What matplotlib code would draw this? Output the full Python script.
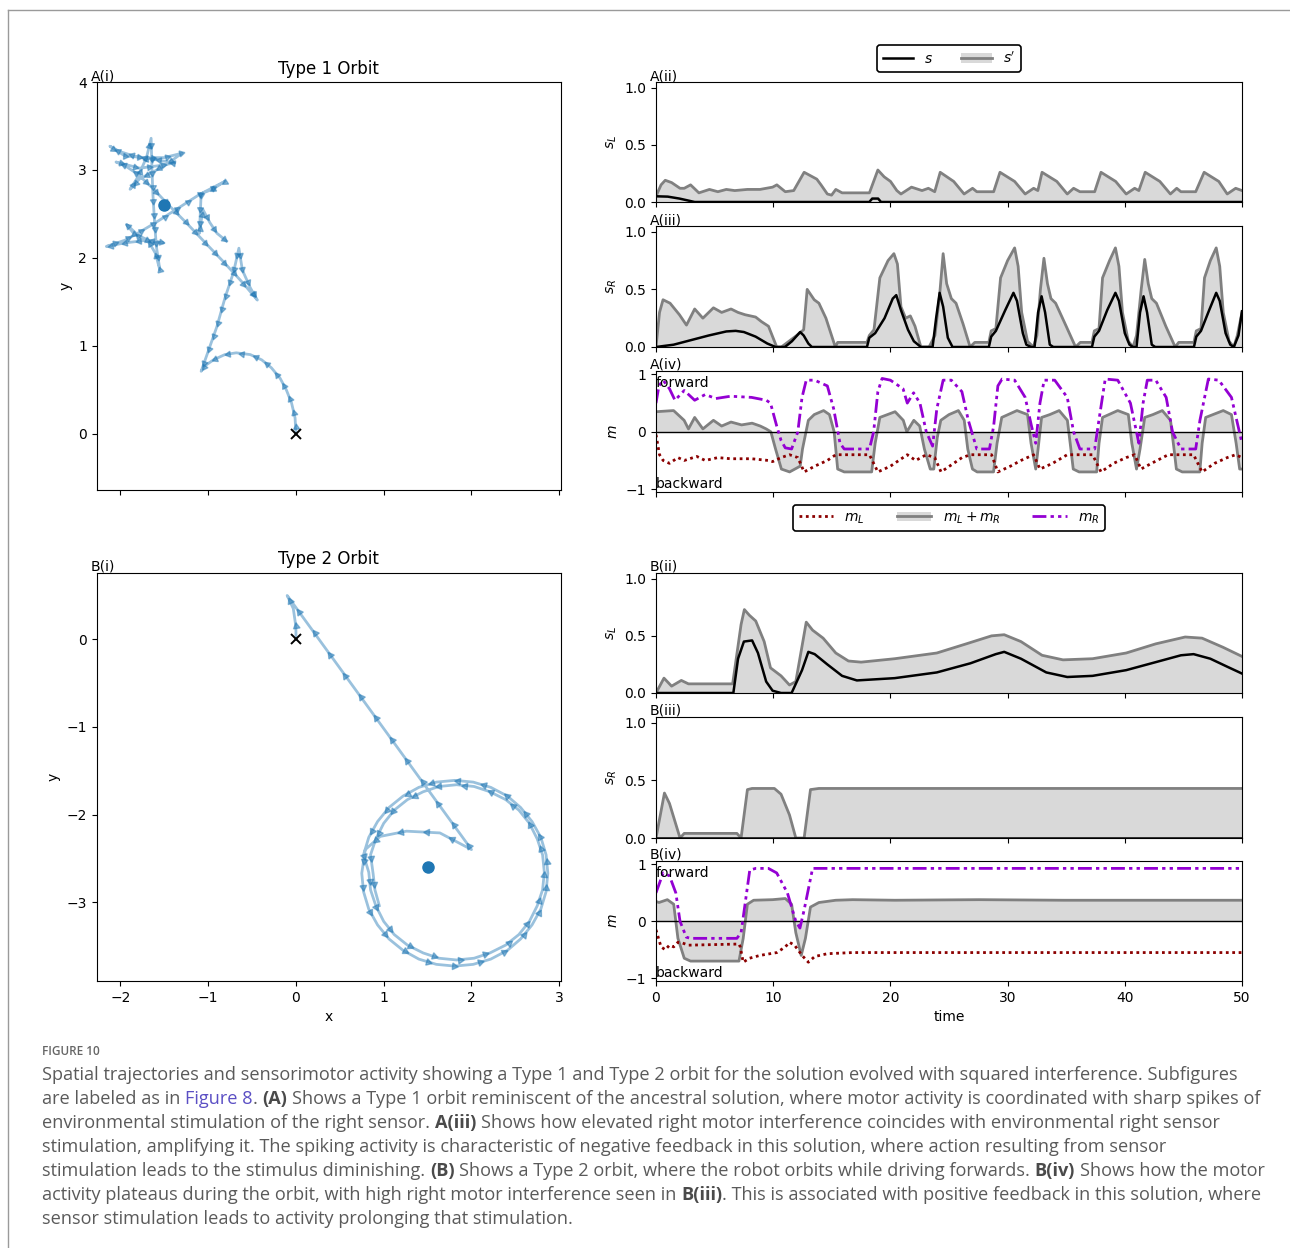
import numpy as np
import matplotlib
matplotlib.use("Agg")
import matplotlib.pyplot as plt
from matplotlib.patches import Patch
from matplotlib.lines import Line2D

# ---------------- data ----------------
# Type 1 orbit trajectory (x, y)
a_x = [0, -0.01, -0.05, -0.11, -0.18, -0.28, -0.39, -0.52, -0.68, -0.81, -0.94, -1.04, -1.08,
       -0.9, -0.81, -0.71, -0.65,
       -0.61, -0.52, -0.44,
       -0.6, -0.83, -1.06, -1.25, -1.45, -1.62, -1.8, -1.95, -2.05,
       -1.78, -1.55, -1.38,
       -1.62, -1.82, -2.01, -2.12,
       -1.95, -1.72, -1.5, -1.3,
       -1.45, -1.62, -1.78, -1.89,
       -1.8, -1.7, -1.65,
       -1.64, -1.63, -1.61, -1.59, -1.55,
       -1.6, -1.67, -1.78, -1.93,
       -1.85, -1.68, -1.51,
       -1.7, -1.95, -2.16,
       -1.95, -1.82, -1.6, -1.35, -1.1, -0.81,
       -0.95, -1.08, -1.09, -1.1, -1.06, -0.98, -0.9, -0.79]
a_y = [0, 0.18, 0.35, 0.5, 0.63, 0.75, 0.84, 0.9, 0.92, 0.9, 0.84, 0.77, 0.71,
       1.22, 1.54, 1.84, 2.11,
       1.86, 1.66, 1.52,
       1.71, 1.96, 2.2, 2.4, 2.6, 2.78, 2.95, 3.05, 3.09,
       3.02, 3.05, 3.08,
       3.12, 3.15, 3.21, 3.27,
       3.16, 3.14, 3.14, 3.19,
       3.08, 2.98, 2.9, 2.78,
       2.92, 3.15, 3.36,
       3.0, 2.73, 2.39, 2.13, 1.86,
       2.05, 2.17, 2.24, 2.38,
       2.28, 2.2, 2.17,
       2.2, 2.17, 2.13,
       2.2, 2.27, 2.4, 2.56, 2.72, 2.87,
       2.78, 2.73, 2.5, 2.28, 2.55, 2.4, 2.28, 2.19]
a_reverse = [(12, 16), (19, 26)]
a_light = (-1.5, 2.6)

# Type 2 orbit trajectory (x, y)
b_x = [0, 0, -0.03, -0.1, 2.0, 1.64, 1.26, 0.96, 0.79,
       0.75, 0.77, 0.83, 0.93, 1.06, 1.22, 1.40, 1.60, 1.81, 2.02, 2.22, 2.41, 2.56, 2.69, 2.79, 2.85,
       2.87, 2.85, 2.79, 2.69, 2.56, 2.41, 2.22, 2.02, 1.81, 1.60, 1.40, 1.22, 1.06, 0.93, 0.83, 0.77,
       0.83, 0.85, 0.91, 1.00, 1.12, 1.27, 1.45, 1.63, 1.83, 2.03, 2.21, 2.39, 2.54, 2.66, 2.75, 2.81,
       2.83, 2.81, 2.75, 2.66, 2.54, 2.39, 2.21, 2.03, 1.83, 1.63, 1.45, 1.27, 1.12, 1.00, 0.91, 0.85,
       0.88, 0.90, 0.95]
b_y = [0, 0.14, 0.35, 0.5, -2.4, -2.21, -2.19, -2.25, -2.4,
       -2.67, -2.88, -3.08, -3.26, -3.42, -3.55, -3.65, -3.71, -3.73, -3.71, -3.65, -3.55, -3.42, -3.26, -3.08, -2.88,
       -2.67, -2.46, -2.26, -2.08, -1.92, -1.79, -1.69, -1.63, -1.61, -1.63, -1.69, -1.79, -1.92, -2.08, -2.26, -2.46,
       -2.66, -2.86, -3.04, -3.22, -3.37, -3.49, -3.58, -3.64, -3.66, -3.64, -3.58, -3.49, -3.37, -3.22, -3.04, -2.86,
       -2.66, -2.46, -2.28, -2.10, -1.95, -1.83, -1.74, -1.68, -1.66, -1.68, -1.74, -1.83, -1.95, -2.10, -2.28, -2.46,
       -2.68, -2.86, -3.04]
b_reverse = [(3, 4)]
b_light = (1.5, -2.6)

# A(ii): left sensor, Type 1
aL_t2 = [0, 0.43, 0.79, 1.33, 2.05, 2.41, 2.95, 3.66, 4.56, 5.28, 6.0, 6.72, 7.79, 8.87, 9.95, 10.31,
         11.03, 11.75, 12.64, 13.72, 14.08, 14.62, 14.98, 15.34, 15.88, 18.21, 18.93, 19.47, 20.01,
         20.55, 20.9, 21.8, 22.7, 23.24, 23.78, 24.25, 25.4, 26.29, 27.01, 27.37, 28.81, 29.35, 30.6,
         31.5, 32.22, 32.58, 32.94, 34.2, 35.09, 35.63, 36.17, 37.43, 37.97, 39.22, 40.12, 40.84, 41.2,
         41.74, 42.99, 43.89, 44.43, 44.79, 46.05, 46.77, 48.02, 48.74, 49.46, 50]
aL_s2 = [0.05, 0.15, 0.19, 0.17, 0.12, 0.12, 0.15, 0.08, 0.11, 0.09, 0.11, 0.10, 0.11, 0.11, 0.13, 0.15,
         0.09, 0.10, 0.26, 0.20, 0.15, 0.07, 0.06, 0.11, 0.08, 0.08, 0.28, 0.22, 0.18,
         0.10, 0.07, 0.13, 0.10, 0.12, 0.09, 0.26, 0.18, 0.07, 0.12, 0.09, 0.09, 0.26, 0.18,
         0.07, 0.12, 0.10, 0.26, 0.18, 0.07, 0.12, 0.09, 0.09, 0.26, 0.18, 0.07, 0.12, 0.10,
         0.26, 0.18, 0.07, 0.12, 0.09, 0.09, 0.26, 0.18, 0.07, 0.12, 0.10]
aL_t = [0, 1, 2, 3.3, 18.2, 18.45, 18.95, 19.2, 50]
aL_s = [0.05, 0.047, 0.03, 0.0, 0.0, 0.03, 0.03, 0.0, 0.0]

# A(iii): right sensor, Type 1
aR_t2 = [0, 0.3, 0.6, 1.2, 2.0, 2.6, 3.3, 4.0, 4.9, 5.6, 6.4, 7.0, 7.6, 8.5, 9.0, 9.6, 10.3, 10.7,
         12.0, 12.6, 12.9, 13.5, 13.9, 14.5, 15.3, 15.5, 18.0, 18.2, 18.6, 19.1, 19.8, 20.3, 20.6,
         20.9, 21.3, 21.7, 22.1, 22.6, 23.3, 23.8, 24.2, 24.5, 24.8, 25.2, 25.6, 26.2, 26.8, 27.2,
         28.4, 28.6, 29.0, 29.4, 30.0, 30.6, 30.9, 31.2, 31.7, 32.2, 32.5, 32.8, 33.1, 33.4, 33.7,
         34.1, 35.0, 35.8, 36.2, 37.2, 37.4, 37.8, 38.1, 38.7, 39.2, 39.5, 39.8, 40.3, 40.7, 41.0,
         41.4, 41.7, 42.0, 42.3, 42.7, 43.5, 44.3, 44.6, 45.9, 46.1, 46.5, 46.8, 47.3, 47.8, 48.1,
         48.4, 48.9, 49.3, 49.6, 50.0]
aR_s2 = [0.0, 0.3, 0.41, 0.38, 0.28, 0.19, 0.33, 0.25, 0.34, 0.30, 0.33, 0.30, 0.28, 0.26, 0.22, 0.18, 0.0, 0.0,
         0.10, 0.15, 0.50, 0.41, 0.38, 0.25, 0.0, 0.04, 0.04, 0.10, 0.15, 0.60, 0.75, 0.81, 0.72,
         0.35, 0.25, 0.27, 0.18, 0.0, 0.0, 0.10, 0.45, 0.81, 0.55, 0.42, 0.38, 0.20, 0.0, 0.04,
         0.04, 0.14, 0.16, 0.60, 0.75, 0.86, 0.70, 0.30, 0.05, 0.0, 0.10, 0.50, 0.77, 0.55, 0.42,
         0.38, 0.18, 0.0, 0.04, 0.04, 0.14, 0.16, 0.60, 0.75, 0.86, 0.70, 0.30, 0.05, 0.0, 0.10,
         0.50, 0.76, 0.55, 0.42, 0.38, 0.18, 0.0, 0.04, 0.04, 0.14, 0.16, 0.60, 0.75, 0.86, 0.70,
         0.30, 0.05, 0.0, 0.10, 0.30]
aR_t = [0, 1.5, 3, 4.5, 6, 6.8, 7.5, 8.5, 9.5, 10.2, 11.0, 11.6, 12.3, 12.6, 13.0, 13.3, 18.0, 18.2,
        18.7, 19.5, 20.2, 20.5, 20.9, 21.5, 22.0, 22.6, 23.6, 23.9, 24.2, 24.5, 24.9, 25.3, 28.4,
        28.6, 29.0, 29.8, 30.5, 30.8, 31.3, 31.6, 32.0, 32.3, 32.6, 32.9, 33.2, 33.6, 33.9, 37.2,
        37.4, 37.8, 38.5, 39.2, 39.5, 40.0, 40.4, 40.7, 41.0, 41.3, 41.6, 41.9, 42.3, 42.6, 45.9,
        46.1, 46.5, 47.2, 47.8, 48.1, 48.6, 49.0, 49.3, 49.7, 50.0]
aR_s = [0, 0.02, 0.06, 0.10, 0.135, 0.14, 0.13, 0.09, 0.03, 0.0, 0.0, 0.05, 0.13, 0.10, 0.03, 0.0, 0.0, 0.08,
        0.12, 0.25, 0.42, 0.45, 0.32, 0.15, 0.05, 0.0, 0.0, 0.25, 0.47, 0.35, 0.08, 0.0, 0.0,
        0.09, 0.14, 0.32, 0.47, 0.40, 0.12, 0.02, 0.0, 0.0, 0.30, 0.44, 0.30, 0.02, 0.0, 0.0,
        0.09, 0.14, 0.32, 0.47, 0.40, 0.12, 0.02, 0.0, 0.0, 0.30, 0.44, 0.30, 0.02, 0.0, 0.0,
        0.09, 0.14, 0.32, 0.47, 0.40, 0.12, 0.02, 0.0, 0.10, 0.31]

# A(iv): motors, Type 1
aMR_t = [0, 0.25, 0.61, 1.15, 1.62, 2.41, 3.3, 4.2, 5.1, 6.36, 8.15, 9.41, 9.77, 10.3, 10.67, 11.03,
         11.57, 12.1, 12.46, 12.82, 13.54, 14.62, 15.16, 15.7, 16.06, 18.21, 18.57, 18.93, 19.29,
         20.0, 21.08, 21.44, 21.98, 22.52, 23.06, 23.6, 23.96, 24.5, 25.2, 26.1, 26.65, 27.37, 28.45,
         28.81, 29.17, 29.53, 30.6, 31.5, 32.04, 32.4, 32.76, 33.12, 34.02, 35.09, 35.63, 36.17,
         37.43, 37.79, 38.33, 39.4, 40.48, 41.2, 41.56, 41.92, 42.64, 43.53, 44.07, 44.79, 46.05,
         46.41, 47.13, 48.02, 49.1, 50.0]
aMR = [0.5, 0.8, 0.9, 0.75, 0.55, 0.72, 0.55, 0.65, 0.58, 0.62, 0.6, 0.55, 0.5, 0.1, -0.15, -0.28,
       -0.3, 0.0, 0.6, 0.9, 0.9, 0.8, 0.4, -0.2, -0.3, -0.3, 0.0, 0.7, 0.93,
       0.9, 0.75, 0.5, 0.68, 0.5, 0.0, -0.25, 0.4, 0.9, 0.9, 0.7, 0.2, -0.3, -0.3,
       0.1, 0.8, 0.92, 0.9, 0.6, 0.1, -0.2, 0.5, 0.9, 0.9, 0.6, 0.0, -0.3,
       -0.3, 0.2, 0.92, 0.9, 0.5, -0.2, 0.5, 0.9, 0.9, 0.6, 0.0, -0.3, -0.3,
       0.2, 0.92, 0.9, 0.6, -0.2]
aMS_t = [0, 1.5, 2.4, 2.77, 3.3, 4.0, 4.9, 5.6, 6.4, 7.3, 8.2, 8.9, 9.4, 9.8, 10.2, 10.7, 11.4, 12.3,
         12.5, 13.0, 13.5, 14.3, 14.8, 15.2, 15.5, 16.06, 18.4, 18.7, 19.1, 20.4, 21.1, 21.4, 22.0,
         22.5, 22.9, 23.4, 23.7, 24.0, 24.3, 25.0, 25.8, 26.3, 26.6, 27.0, 27.4, 28.8, 29.1, 29.5,
         30.8, 31.7, 32.0, 32.4, 32.6, 32.9, 33.6, 34.4, 35.1, 35.4, 35.6, 36.1, 37.6, 37.8, 38.1,
         39.4, 40.3, 40.6, 41.0, 41.3, 41.7, 42.4, 43.2, 43.9, 44.2, 44.4, 44.9, 46.4, 46.6, 46.9,
         48.4, 49.1, 49.5, 49.8, 50.0]
aMS = [0.35, 0.37, 0.2, 0.05, 0.25, 0.05, 0.2, 0.1, 0.17, 0.12, 0.15, 0.1, 0.05, 0.0, -0.3, -0.65, -0.7, -0.6,
       -0.3, 0.2, 0.3, 0.37, 0.3, 0.0, -0.65, -0.7, -0.7, -0.2, 0.25, 0.35, 0.2, 0.0, 0.2,
       0.1, -0.3, -0.65, -0.65, -0.1, 0.2, 0.3, 0.37, 0.2, -0.3, -0.65, -0.7, -0.7, -0.2, 0.25,
       0.37, 0.3, -0.2, -0.65, -0.3, 0.25, 0.3, 0.37, 0.2, -0.3, -0.65, -0.7, -0.7, -0.2, 0.25,
       0.37, 0.3, -0.2, -0.65, -0.3, 0.25, 0.3, 0.37, 0.2, -0.3, -0.65, -0.7, -0.7, -0.2, 0.25,
       0.37, 0.3, -0.2, -0.65, -0.65]
aML_t = [0, 0.3, 0.61, 1.15, 1.87, 2.41, 3.48, 4.2, 5.28, 6.36, 8.15, 9.59, 9.95, 10.67, 11.39, 12.1,
         12.64, 13.54, 14.62, 15.34, 18.21, 18.93, 20.0, 20.72, 21.44, 22.16, 23.06, 23.78, 24.32,
         25.4, 26.11, 26.83, 28.63, 29.17, 30.24, 31.14, 32.22, 32.76, 33.84, 35.09, 37.25, 37.97,
         39.04, 40.12, 40.84, 41.38, 42.28, 43.71, 45.87, 46.59, 47.66, 48.74, 49.46, 50.0]
aML = [-0.05, -0.4, -0.5, -0.55, -0.45, -0.5, -0.43, -0.5, -0.45, -0.47, -0.47, -0.5, -0.52, -0.45, -0.4, -0.45,
       -0.7, -0.6, -0.5, -0.4, -0.4, -0.7, -0.6, -0.5, -0.4, -0.5, -0.4, -0.45, -0.7,
       -0.55, -0.45, -0.4, -0.4, -0.7, -0.6, -0.5, -0.4, -0.65, -0.55, -0.4, -0.4, -0.7,
       -0.55, -0.45, -0.4, -0.65, -0.55, -0.4, -0.4, -0.7, -0.55, -0.45, -0.4, -0.45]

# B(ii): left sensor, Type 2
bL_t2 = [0, 0.68, 1.33, 2.16, 2.77, 6.54, 7.26, 7.54, 7.97, 8.51, 9.23, 9.77, 10.67, 11.39, 11.93,
         12.82, 13.36, 14.26, 15.34, 16.42, 17.5, 20.37, 23.96, 26.47, 28.63, 29.71, 31.14, 32.94,
         34.73, 37.25, 40.12, 42.64, 45.15, 46.59, 48.38, 50]
bL_s2 = [0.0, 0.13, 0.06, 0.11, 0.08, 0.08, 0.6, 0.73, 0.68, 0.63, 0.45, 0.22, 0.15, 0.07, 0.1,
         0.62, 0.55, 0.48, 0.35, 0.28, 0.27, 0.3, 0.35, 0.43, 0.5, 0.51, 0.45, 0.33,
         0.29, 0.3, 0.35, 0.43, 0.49, 0.48, 0.4, 0.32]
bL_t = [0, 6.6, 7.0, 7.5, 8.2, 8.7, 9.4, 9.95, 10.67, 11.57, 12.46, 13.0, 13.54, 14.62, 15.88, 17.14,
        20.37, 23.96, 26.83, 28.99, 29.71, 31.14, 33.3, 35.09, 37.25, 40.12, 42.64, 44.79, 45.87,
        47.3, 48.74, 50]
bL_s = [0, 0.0, 0.3, 0.45, 0.46, 0.35, 0.1, 0.02, 0.0, 0.0, 0.2, 0.36, 0.34, 0.25, 0.15, 0.11,
        0.13, 0.18, 0.26, 0.34, 0.36, 0.3, 0.18, 0.14, 0.15, 0.2, 0.27, 0.33, 0.34,
        0.3, 0.23, 0.17]

# B(iii): right sensor, Type 2
bR_t2 = [0, 0.72, 1.15, 2.05, 2.41, 6.9, 7.26, 7.8, 8.2, 10.1, 10.67, 11.39, 11.93, 12.64, 13.18, 13.9, 50]
bR_s2 = [0.0, 0.39, 0.3, 0.0, 0.04, 0.04, 0.0, 0.42, 0.43, 0.43, 0.38, 0.2, 0.0, 0.0, 0.42, 0.43, 0.43]
bR_t = [0, 50]
bR_s = [0, 0]

# B(iv): motors, Type 2
bMR_t = [0, 0.61, 1.15, 1.69, 2.05, 2.59, 2.95, 6.9, 7.26, 8.0, 8.51, 9.59, 10.3, 11.21, 11.93, 12.28,
         12.64, 13.36, 50]
bMR = [0.5, 0.85, 0.8, 0.5, 0.0, -0.28, -0.3, -0.3, -0.2, 0.9, 0.93, 0.93, 0.85, 0.5, 0.0, -0.12,
       0.2, 0.93, 0.93]
bMS_t = [0, 0.25, 0.97, 1.51, 1.87, 2.41, 2.95, 7.08, 7.44, 7.8, 8.33, 9.95, 11.03, 11.57, 11.93,
         12.39, 12.75, 13.18, 13.9, 15.34, 16.78, 20.37, 27.55, 34.73, 50]
bMS = [0.35, 0.33, 0.38, 0.3, -0.3, -0.65, -0.7, -0.7, -0.3, 0.3, 0.37, 0.38, 0.4, 0.3, -0.2,
       -0.6, -0.3, 0.25, 0.33, 0.37, 0.38, 0.37, 0.38, 0.37, 0.37]
bML_t = [0, 0.43, 0.79, 1.15, 1.51, 1.87, 2.23, 2.77, 7.08, 7.19, 7.44, 7.97, 8.87, 10.31, 11.03,
         11.39, 11.82, 12.46, 13.0, 13.54, 14.62, 16.78, 50]
bML = [-0.15, -0.45, -0.5, -0.42, -0.45, -0.37, -0.38, -0.42, -0.4, -0.45, -0.72, -0.65, -0.6, -0.55,
       -0.45, -0.37, -0.42, -0.6, -0.72, -0.62, -0.57, -0.55, -0.55]

time_ticks = [0, 10, 20, 30, 40, 50]
s_ticks = [0.0, 0.5, 1.0]
m_ticks = [-1, 0, 1]

# ---------------- style ----------------
W, H = 1290, 1248
BLUE = "#1f77b4"
GRAYLINE = "#808080"
FILL = "#d9d9d9"
RED = "#8b0000"
VIOLET = "#9400d3"
DASHDOT2 = (0, (5, 1.5, 1.2, 1.5, 1.2, 1.5))
DOTS = (0, (1, 1.3))

fig = plt.figure(figsize=(W / 100, H / 100), dpi=100)


def add_ax(left, top, right, bottom):
    return fig.add_axes([left / W, 1 - bottom / H, (right - left) / W, (bottom - top) / H])


def panel_label(ax, txt):
    ax.annotate(txt, xy=(0, 1), xycoords="axes fraction", xytext=(-6, -1),
                textcoords="offset pixels", ha="left", va="bottom", fontsize=10)


def draw_traj(ax, xs, ys, rev, spacing, ms):
    xs = np.asarray(xs, float)
    ys = np.asarray(ys, float)
    ax.plot(xs, ys, color=BLUE, alpha=0.45, lw=2, solid_joinstyle="round")
    seg = np.hypot(np.diff(xs), np.diff(ys))
    cum = np.concatenate([[0], np.cumsum(seg)])
    revset = set()
    for a, b in rev:
        revset.update(range(a, b))
    s = spacing * 0.5
    while s < cum[-1]:
        i = min(np.searchsorted(cum, s, side="right") - 1, len(seg) - 1)
        f = (s - cum[i]) / seg[i] if seg[i] > 0 else 0
        px = xs[i] + f * (xs[i + 1] - xs[i])
        py = ys[i] + f * (ys[i + 1] - ys[i])
        ang = np.degrees(np.arctan2(ys[i + 1] - ys[i], xs[i + 1] - xs[i]))
        if i in revset:
            ang += 180
        ax.plot([px], [py], marker=(3, 0, ang - 90), ms=ms, color=BLUE, alpha=0.5,
                ls="none", mec=BLUE)
        s += spacing


# left panels
axA1 = add_ax(96.7, 82, 561, 490)
axB1 = add_ax(96.7, 572.7, 561, 981)
for ax, xs, ys, rev, light, sp, ms in [(axA1, a_x, a_y, a_reverse, a_light, 0.16, 5),
                                       (axB1, b_x, b_y, b_reverse, b_light, 0.3, 5.5)]:
    draw_traj(ax, xs, ys, rev, sp, ms)
    ax.plot([light[0]], [light[1]], "o", color=BLUE, ms=8)
    ax.plot([0], [0], "x", color="black", ms=7, mew=1.4)
    ax.set_xlim(-2.27, 3.02)
    ax.set_xticks([-2, -1, 0, 1, 2, 3])
    ax.set_ylabel("y")
axA1.set_ylim(-0.64, 4.0)
axA1.set_yticks([0, 1, 2, 3, 4])
axA1.tick_params(labelbottom=False)
axB1.set_ylim(-3.9, 0.76)
axB1.set_yticks([-3, -2, -1, 0])
axB1.set_xlabel("x")
axA1.set_title("Type 1 Orbit", fontsize=12)
axB1.set_title("Type 2 Orbit", fontsize=12)
panel_label(axA1, "A(i)")
panel_label(axB1, "B(i)")

# right panels
L, R = 656, 1242
axA2 = add_ax(L, 82, R, 202)
axA3 = add_ax(L, 226, R, 347)
axA4 = add_ax(L, 371, R, 492)
axB2 = add_ax(L, 573, R, 693)
axB3 = add_ax(L, 717, R, 838)
axB4 = add_ax(L, 861, R, 981)


def sensor(ax, t2, s2, t, s, lab, ylab):
    ax.fill_between(t2, 0, s2, color=FILL, lw=0)
    ax.plot(t2, s2, color=GRAYLINE, lw=2, solid_joinstyle="round")
    ax.plot(t, s, color="black", lw=1.8, solid_joinstyle="round")
    ax.set_ylim(0, 1.05)
    ax.set_yticks(s_ticks)
    ax.set_ylabel(ylab)
    panel_label(ax, lab)


def motor(ax, tl, ml, ts, ms, tr, mr, lab):
    ax.fill_between(ts, 0, ms, color=FILL, lw=0)
    ax.plot(ts, ms, color=GRAYLINE, lw=2, solid_joinstyle="round")
    ax.axhline(0, color="black", lw=1)
    ax.plot(tl, ml, color=RED, lw=2, ls=DOTS)
    ax.plot(tr, mr, color=VIOLET, lw=2, ls=DASHDOT2)
    ax.set_ylim(-1.05, 1.06)
    ax.set_yticks(m_ticks)
    ax.set_ylabel("$m$")
    ax.text(0, 0.78, "forward", fontsize=10, ha="left", va="baseline")
    ax.text(0, -0.98, "backward", fontsize=10, ha="left", va="baseline")
    panel_label(ax, lab)


sensor(axA2, aL_t2, aL_s2, aL_t, aL_s, "A(ii)", "$s_L$")
sensor(axA3, aR_t2, aR_s2, aR_t, aR_s, "A(iii)", "$s_R$")
motor(axA4, aML_t, aML, aMS_t, aMS, aMR_t, aMR, "A(iv)")
sensor(axB2, bL_t2, bL_s2, bL_t, bL_s, "B(ii)", "$s_L$")
sensor(axB3, bR_t2, bR_s2, bR_t, bR_s, "B(iii)", "$s_R$")
motor(axB4, bML_t, bML, bMS_t, bMS, bMR_t, bMR, "B(iv)")
for ax in [axA2, axA3, axA4, axB2, axB3, axB4]:
    ax.set_xlim(0, 50)
    ax.set_xticks(time_ticks)
    if ax is not axB4:
        ax.tick_params(labelbottom=False)
axB4.set_xlabel("time")

# legends
h_s = Line2D([], [], color="black", lw=1.8)
h_s2 = (Patch(facecolor=FILL, edgecolor="none"), Line2D([], [], color=GRAYLINE, lw=2))
leg1 = fig.legend([h_s, h_s2], ["$s$", "$s'$"], loc="center", ncol=2,
                  bbox_to_anchor=((L + R) / 2 / W, 1 - 58.5 / H), fontsize=10,
                  edgecolor="black", framealpha=1, handlelength=2.2, columnspacing=2.0)
leg1.get_frame().set_linewidth(1.2)
h_ml = Line2D([], [], color=RED, lw=2, ls=DOTS)
h_mr = Line2D([], [], color=VIOLET, lw=2, ls=DASHDOT2)
leg2 = fig.legend([h_ml, h_s2, h_mr], ["$m_L$", "$m_L + m_R$", "$m_R$"], loc="center", ncol=3,
                  bbox_to_anchor=((L + R) / 2 / W, 1 - 518 / H), fontsize=10,
                  edgecolor="black", framealpha=1, handlelength=2.5, columnspacing=2.3)
leg2.get_frame().set_linewidth(1.2)

# page frame
fig.add_artist(Line2D([8 / W, 8 / W], [0, 1 - 10 / H], color="#9a9a9a", lw=1,
                      transform=fig.transFigure))
fig.add_artist(Line2D([8 / W, 1], [1 - 10 / H, 1 - 10 / H], color="#9a9a9a", lw=1,
                      transform=fig.transFigure))

# caption
CAP_FONT = ["Open Sans", "DejaVu Sans"]
CAP_COLOR = "#5a5a5a"
LINK = "#5b4fc4"
fig.text(42 / W, 1 - 1055 / H, "FIGURE 10", fontsize=8.5, color="#666666",
         family=CAP_FONT, weight="semibold", va="baseline")

caption = [
    [("Spatial trajectories and sensorimotor activity showing a Type 1 and Type 2 orbit for the solution evolved with squared interference. Subfigures", "n", False)],
    [("are labeled as in", "n", False), ("Figure 8", "l", True), (".", "n", False), ("(A)", "b", True),
     ("Shows a Type 1 orbit reminiscent of the ancestral solution, where motor activity is coordinated with sharp spikes of", "n", True)],
    [("environmental stimulation of the right sensor.", "n", False), ("A(iii)", "b", True),
     ("Shows how elevated right motor interference coincides with environmental right sensor", "n", True)],
    [("stimulation, amplifying it. The spiking activity is characteristic of negative feedback in this solution, where action resulting from sensor", "n", False)],
    [("stimulation leads to the stimulus diminishing.", "n", False), ("(B)", "b", True),
     ("Shows a Type 2 orbit, where the robot orbits while driving forwards.", "n", True), ("B(iv)", "b", True),
     ("Shows how the motor", "n", True)],
    [("activity plateaus during the orbit, with high right motor interference seen in", "n", False), ("B(iii)", "b", True),
     (". This is associated with positive feedback in this solution, where", "n", False)],
    [("sensor stimulation leads to activity prolonging that stimulation.", "n", False)],
]

renderer = fig.canvas.get_renderer()
probe = fig.text(0, 0, caption[0][0][0], fontsize=12, family=CAP_FONT)
wprobe = probe.get_window_extent(renderer).width
probe.remove()
cap_size = 12 * 1194 / wprobe
pa = fig.text(0, 0, "x x", fontsize=cap_size, family=CAP_FONT)
pb = fig.text(0, 0, "xx", fontsize=cap_size, family=CAP_FONT)
space_w = pa.get_window_extent(renderer).width - pb.get_window_extent(renderer).width
pa.remove()
pb.remove()

y0 = 1080
for k, line in enumerate(caption):
    x = 42.0
    y = y0 + 24 * k
    for txt, kind, sp in line:
        if sp:
            x += space_w
        kw = dict(fontsize=cap_size, family=CAP_FONT, color=CAP_COLOR, va="baseline", ha="left")
        if kind == "b":
            kw["weight"] = "bold"
            kw["color"] = "#4a4a4a"
        elif kind == "l":
            kw["color"] = LINK
        t = fig.text(x / W, 1 - y / H, txt, **kw)
        x += t.get_window_extent(renderer).width

fig.savefig("out.png", dpi=100)
